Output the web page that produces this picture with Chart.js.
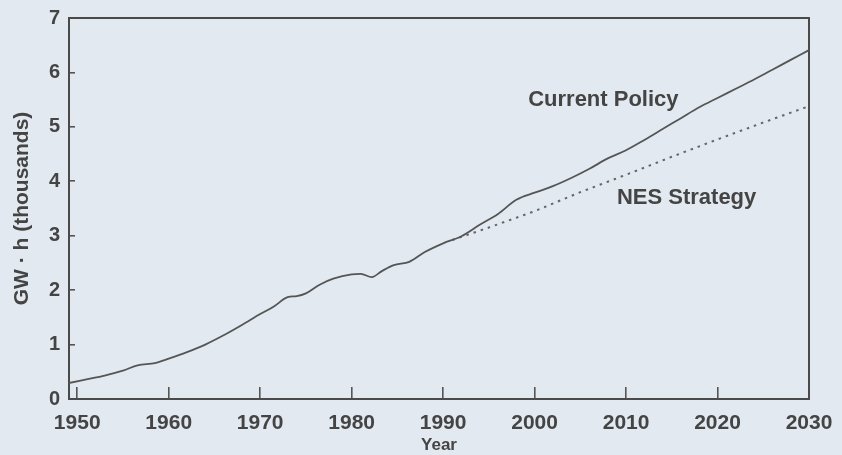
<!DOCTYPE html>
<html>
<head>
<meta charset="utf-8">
<script src="https://cdn.jsdelivr.net/npm/chart.js@4.4.0/dist/chart.umd.min.js"></script>
<style>
  html, body { margin: 0; padding: 0; background: #e3e9f1; }
  #wrap { width: 842px; height: 455px; position: relative; }
</style>
</head>
<body>
<div id="wrap"><canvas id="chart"></canvas></div>
<script>
// Current Policy (solid line), GW·h thousands
const policyYears = [1949, 1951, 1953, 1955, 1956.6, 1958.5, 1960, 1962, 1964, 1966, 1968, 1970, 1971.5, 1973, 1974,
  1975, 1976.5, 1978, 1980, 1981, 1982.2, 1983.3, 1984.6, 1986.3, 1988, 1990, 1992, 1994, 1996, 1998,
  2000, 2002, 2004, 2006, 2008, 2010, 2012, 2014, 2016, 2018, 2020, 2022, 2024, 2026, 2028, 2030];
const policyValues = [0.29, 0.36, 0.43, 0.52, 0.62, 0.66, 0.74, 0.86, 1.0, 1.17, 1.36, 1.56, 1.70, 1.87, 1.89,
  1.94, 2.10, 2.21, 2.29, 2.30, 2.24, 2.35, 2.46, 2.52, 2.70, 2.86, 2.99, 3.20, 3.40, 3.66,
  3.79, 3.91, 4.06, 4.23, 4.42, 4.57, 4.76, 4.96, 5.16, 5.36, 5.53, 5.70, 5.87, 6.05, 6.23, 6.41];

// NES Strategy (dotted line)
const nesYears = [1991, 1995, 2000, 2005, 2010, 2015, 2020, 2025, 2030];
const nesValues = [2.92, 3.15, 3.45, 3.80, 4.12, 4.45, 4.77, 5.08, 5.38];

const xTicks = [1950, 1960, 1970, 1980, 1990, 2000, 2010, 2020, 2030];
const yTicks = [0, 1, 2, 3, 4, 5, 6, 7];

const ink = '#444';
const fontFamily = '"Liberation Sans", Arial, Helvetica, sans-serif';

const toPoints = (xs, ys) => xs.map((x, i) => ({ x: x, y: ys[i] }));

// the outer labels should not push the plot area in
const noLabelPadding = s => {
  s.paddingTop = 0; s.paddingBottom = 0; s.paddingLeft = 0; s.paddingRight = 0;
};

// frame round the plot area
const framePlugin = {
  id: 'frame',
  beforeDatasetsDraw(chart) {
    const { ctx, chartArea: a } = chart;
    ctx.save();
    ctx.strokeStyle = '#4a4a4a';
    ctx.lineWidth = 2;
    ctx.strokeRect(a.left, a.top, a.right - a.left, a.bottom - a.top);
    ctx.restore();
  }
};

// text labels next to the lines
const labelPlugin = {
  id: 'lineLabels',
  afterDatasetsDraw(chart, args, opts) {
    const { ctx, scales } = chart;
    ctx.save();
    ctx.fillStyle = ink;
    ctx.font = 'bold 22px ' + fontFamily;
    ctx.textAlign = 'left';
    ctx.textBaseline = 'middle';
    opts.items.forEach(item => {
      ctx.fillText(item.text, scales.x.getPixelForValue(item.year), scales.y.getPixelForValue(item.value));
    });
    ctx.restore();
  }
};

new Chart(document.getElementById('chart'), {
  type: 'line',
  data: {
    datasets: [{
      label: 'Current Policy',
      data: toPoints(policyYears, policyValues),
      borderColor: '#555',
      borderWidth: 1.8,
      pointRadius: 0,
      cubicInterpolationMode: 'monotone'
    }, {
      label: 'NES Strategy',
      data: toPoints(nesYears, nesValues),
      borderColor: '#666',
      borderWidth: 2,
      borderDash: [2.5, 5],
      pointRadius: 0,
      tension: 0
    }]
  },
  options: {
    responsive: true,
    maintainAspectRatio: false,
    animation: false,
    layout: { padding: { top: 18, right: 33, left: 0, bottom: 0 } },
    plugins: {
      legend: { display: false },
      tooltip: { enabled: false },
      lineLabels: {
        items: [
          { text: 'Current Policy', year: 1999.3, value: 5.5 },
          { text: 'NES Strategy', year: 2009.0, value: 3.69 }
        ]
      }
    },
    scales: {
      x: {
        type: 'linear',
        min: 1949.1,
        max: 2030,
        afterBuildTicks: s => { s.ticks = xTicks.map(v => ({ value: v })); },
        afterFit: s => { s.height = 56; noLabelPadding(s); },
        border: { display: false },
        grid: { drawOnChartArea: false, drawTicks: true, tickLength: -12, color: '#555', lineWidth: 1.6 },
        ticks: {
          padding: 24,
          color: ink,
          maxRotation: 0,
          font: { family: fontFamily, size: 21, weight: 'bold' },
          callback: v => String(v)
        },
        title: {
          display: true,
          text: 'Year',
          color: ink,
          padding: { top: 0, bottom: 1 },
          font: { family: fontFamily, size: 17, weight: 'bold', lineHeight: 1 }
        }
      },
      y: {
        min: 0,
        max: 7,
        afterBuildTicks: s => { s.ticks = yTicks.map(v => ({ value: v })); },
        afterFit: s => { s.width = 69; noLabelPadding(s); },
        border: { display: false },
        grid: { drawOnChartArea: false, drawTicks: true, tickLength: -6, color: '#555', lineWidth: 1.6 },
        ticks: {
          padding: 15,
          color: ink,
          font: { family: fontFamily, size: 20, weight: 'bold' }
        },
        title: {
          display: true,
          text: 'GW · h (thousands)',
          color: ink,
          padding: { top: 10, bottom: 0 },
          font: { family: fontFamily, size: 21, weight: 'bold', lineHeight: 1.2 }
        }
      }
    }
  },
  plugins: [framePlugin, labelPlugin]
});
</script>
</body>
</html>
